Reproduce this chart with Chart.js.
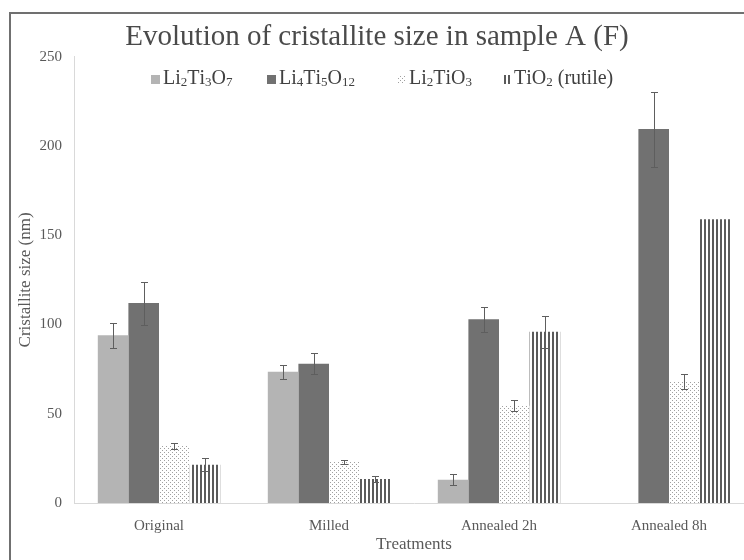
<!DOCTYPE html>
<html>
<head>
<meta charset="utf-8">
<script src="https://cdn.jsdelivr.net/npm/chart.js@4.4.1/dist/chart.umd.min.js"></script>
<style>
  html, body { margin: 0; padding: 0; background: #fff; overflow: hidden; width: 744px; height: 560px; }
  #wrap { position: relative; width: 744px; height: 560px; overflow: hidden; }
  #frame { position: absolute; left: 9px; top: 12px; width: 800px; height: 600px; border: 2px solid #707070; pointer-events: none; }
  #chart { position: absolute; left: 0; top: 0; }
</style>
</head>
<body>
<div id="wrap">
  <canvas id="chart" width="770" height="560"></canvas>
  <div id="frame"></div>
</div>
<script>
// crystallite sizes (nm) per treatment, with standard deviations
var treatments = ['Original', 'Milled', 'Annealed 2h', 'Annealed 8h'];
var phases = ['Li₂Ti₃O₇', 'Li₄Ti₅O₁₂', 'Li₂TiO₃', 'TiO₂ (rutile)'];
var li2ti3o7 = [94, 73.5, 13, null];
var li4ti5o12 = [112, 78, 103, 209.5];
var li2tio3 = [32, 23, 54.5, 68];
var tio2 = [21.5, 13.5, 96, 159];
var li2ti3o7Err = [7, 4, 3, 0];
var li4ti5o12Err = [12, 6, 7, 21];
var li2tio3Err = [1.5, 1, 3, 4];
var tio2Err = [3.5, 1.5, 9, 0];
var yTicks = [0, 50, 100, 150, 200, 250];

var serif = "'Liberation Serif', 'Times New Roman', serif";
Chart.defaults.font.family = serif;

var canvas = document.getElementById('chart');
var ctx = canvas.getContext('2d');

function makePattern(w, h, draw) {
    var c = document.createElement('canvas');
    c.width = w; c.height = h;
    draw(c.getContext('2d'));
    return ctx.createPattern(c, 'repeat');
}

var dots = makePattern(4, 4, function (g) {
    g.fillStyle = '#fff'; g.fillRect(0, 0, 4, 4);
    g.fillStyle = '#a0a0a0'; g.fillRect(0, 0, 1, 1); g.fillRect(2, 2, 1, 1);
});
var stripes = makePattern(4, 1, function (g) {
    g.fillStyle = '#fff'; g.fillRect(0, 0, 4, 1);
    g.fillStyle = '#5a5a5a'; g.fillRect(0, 0, 2, 1);
});

// draws text, turning unicode subscript digits into small lowered digits
function drawChem(c, text, x, y, size) {
    for (var i = 0; i < text.length; i++) {
        var ch = text[i];
        var code = ch.charCodeAt(0);
        if (code >= 0x2080 && code <= 0x2089) {
            c.font = Math.round(size * 0.65) + 'px ' + serif;
            var d = String(code - 0x2080);
            c.fillText(d, x, y + size * 0.2);
            x += c.measureText(d).width;
        } else {
            c.font = size + 'px ' + serif;
            c.fillText(ch, x, y);
            x += c.measureText(ch).width;
        }
    }
    return x;
}

// legend sits inside the plot area, under the title
var legendX = [151, 267, 397, 502];
var chemLegend = {
    id: 'chemLegend',
    afterDraw: function (chart) {
        var c = chart.ctx;
        var y = 79, size = 20;
        c.save();
        c.textBaseline = 'middle';
        chart.data.datasets.forEach(function (ds, i) {
            var x = legendX[i];
            c.fillStyle = ds.backgroundColor;
            c.fillRect(x, y - 4, 9, 9);
            c.fillStyle = '#404040';
            drawChem(c, ds.label, x + 12, y, size);
        });
        c.restore();
    }
};

var errorBars = {
    id: 'errorBars',
    afterDatasetsDraw: function (chart) {
        var c = chart.ctx, ys = chart.scales.y;
        c.save();
        c.strokeStyle = '#5e5e5e';
        c.lineWidth = 1;
        chart.data.datasets.forEach(function (ds, i) {
            chart.getDatasetMeta(i).data.forEach(function (bar, j) {
                var v = ds.data[j], e = ds.errors[j];
                if (v == null || !e) return;
                var x = Math.round(bar.x) + 0.5;
                var top = Math.round(ys.getPixelForValue(v + e)) + 0.5;
                var bot = Math.round(ys.getPixelForValue(v - e)) + 0.5;
                c.beginPath();
                c.moveTo(x, top); c.lineTo(x, bot);
                c.moveTo(x - 3.5, top); c.lineTo(x + 3.5, top);
                c.moveTo(x - 3.5, bot); c.lineTo(x + 3.5, bot);
                c.stroke();
            });
        });
        c.restore();
    }
};

new Chart(ctx, {
    type: 'bar',
    data: {
        labels: treatments,
        datasets: [
            { label: phases[0], data: li2ti3o7, errors: li2ti3o7Err, backgroundColor: '#b4b4b4' },
            { label: phases[1], data: li4ti5o12, errors: li4ti5o12Err, backgroundColor: '#717171' },
            { label: phases[2], data: li2tio3, errors: li2tio3Err, backgroundColor: dots },
            { label: phases[3], data: tio2, errors: tio2Err, backgroundColor: stripes }
        ]
    },
    options: {
        responsive: false,
        animation: false,
        layout: { padding: { left: 0, right: 16, top: 0, bottom: 0 } },
        datasets: { bar: { categoryPercentage: 0.72, barPercentage: 1.0 } },
        plugins: {
            legend: { display: false },
            tooltip: { enabled: false },
            title: {
                display: true,
                text: 'Evolution of cristallite size in sample A (F)',
                color: '#4a4a4a',
                font: { family: serif, size: 29, weight: 'normal' },
                padding: { top: 20, bottom: 2 }
            }
        },
        scales: {
            x: {
                grid: { display: false, drawTicks: false },
                border: { display: true, color: '#d9d9d9', width: 1 },
                ticks: { color: '#595959', font: { size: 15 }, padding: 14 },
                title: {
                    display: true, text: 'Treatments', color: '#595959',
                    font: { size: 17 }, padding: { top: 5, bottom: 5 }
                },
                afterFit: function (scale) { scale.height = 57; }
            },
            y: {
                min: yTicks[0],
                max: yTicks[yTicks.length - 1],
                grid: { display: false, drawTicks: false },
                border: { display: true, color: '#d9d9d9', width: 1 },
                ticks: { stepSize: yTicks[1] - yTicks[0], color: '#595959', font: { size: 15 }, padding: 12 },
                title: {
                    display: true, text: 'Cristallite size (nm)', color: '#595959',
                    font: { size: 17 }, padding: { top: 15, bottom: 0 }
                },
                afterFit: function (scale) { scale.width = 74; }
            }
        }
    },
    plugins: [errorBars, chemLegend]
});
</script>
</body>
</html>
